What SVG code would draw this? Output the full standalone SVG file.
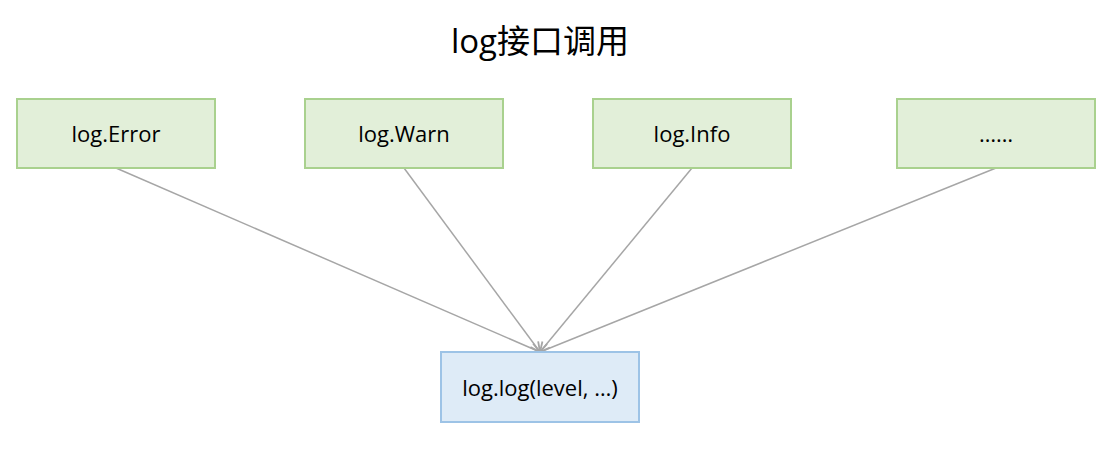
<svg xmlns="http://www.w3.org/2000/svg" width="1120" height="450" viewBox="0 0 1120 450">
<style>
.g{fill:#e2efd9;stroke:#a9d18e;stroke-width:2}
.b{fill:#deebf7;stroke:#9dc3e6;stroke-width:2}
.t{font-family:"Open Sans","Liberation Sans",sans-serif;font-size:22px;fill:#000;text-anchor:middle;dominant-baseline:central}
.c{stroke:#a6a6a6;stroke-width:1.5;fill:none}
</style>
<defs>
<marker id="a" viewBox="0 0 10 10" refX="9" refY="5" markerWidth="12" markerHeight="12" orient="auto" markerUnits="userSpaceOnUse">
<path d="M1,1 L9,5 L1,9" fill="none" stroke="#a6a6a6" stroke-width="1.5"/>
</marker>
</defs>
<rect width="1120" height="450" fill="#fff"/>
<text x="540" y="40" class="t" style="font-size:33px;font-family:'Open Sans','Noto Sans CJK SC',sans-serif">log接口调用</text>
<g id="connectors">
<line class="c" x1="116" y1="168" x2="540" y2="352" marker-end="url(#a)"/>
<line class="c" x1="404" y1="168" x2="540" y2="352" marker-end="url(#a)"/>
<line class="c" x1="692" y1="168" x2="540" y2="352" marker-end="url(#a)"/>
<line class="c" x1="996" y1="168" x2="540" y2="352" marker-end="url(#a)"/>
</g>
<g id="n-error"><rect class="g" x="17" y="99" width="198" height="69"/><text class="t" x="116" y="133">log.Error</text></g>
<g id="n-warn"><rect class="g" x="305" y="99" width="198" height="69"/><text class="t" x="404" y="133">log.Warn</text></g>
<g id="n-info"><rect class="g" x="593" y="99" width="198" height="69"/><text class="t" x="692" y="133">log.Info</text></g>
<g id="n-more"><rect class="g" x="897" y="99" width="198" height="69"/><text class="t" x="996" y="133">……</text></g>
<g id="n-log"><rect class="b" x="441" y="352" width="198" height="70"/><text class="t" x="540" y="387">log.log(level, …)</text></g>
</svg>
